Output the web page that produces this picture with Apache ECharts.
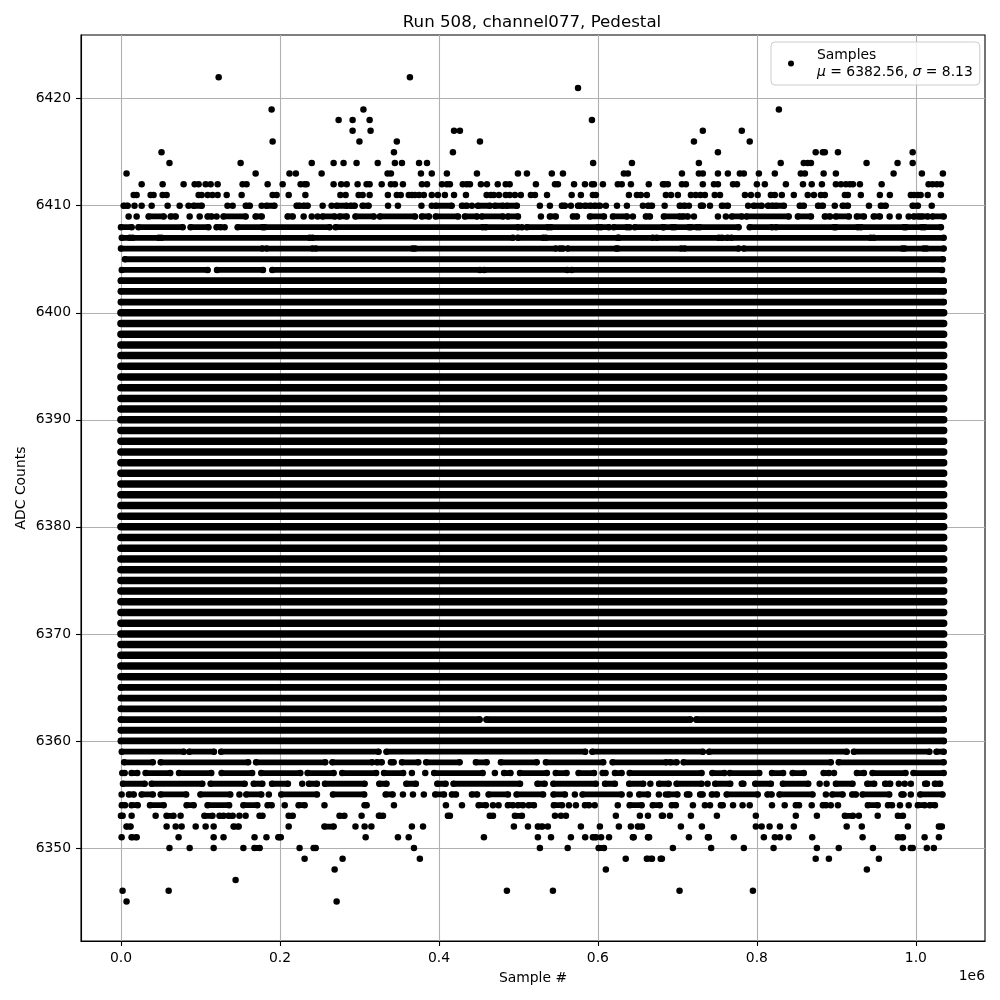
<!DOCTYPE html>
<html>
<head>
<meta charset="utf-8">
<style>html,body{margin:0;padding:0;background:#fff}#c{width:1000px;height:1000px}</style>
<script src="https://cdn.jsdelivr.net/npm/echarts@6/dist/echarts.min.js"></script>
</head>
<body>
<div id="c"></div>
<script>
// x values are in thousands of samples; a number is one sample, [a,b] is an unbroken run of samples.
const xTicks = [0, 200, 400, 600, 800, 1000];
const yTicks = [6350, 6360, 6370, 6380, 6390, 6400, 6410, 6420];
const fullRun = [[0, 1035]];
const solidLevels = [6361,6363,6364,6365,6366,6367,6368,6369,6370,6371,6372,6373,6374,6375,6376,6377,6378,6379,6380,6381,6382,6383,6384,6385,6386,6387,6388,6389,6390,6391,6392,6393,6394,6395,6396,6397,6398,6399,6400,6401,6402,6403];
const saturatedLevels = [6366,6367,6368,6369,6370,6371,6372,6373,6374,6375,6376,6377,6378,6379,6380,6381,6382,6383,6384,6385,6386,6387,6388,6389,6390,6391,6392,6393,6394,6395,6396,6397,6398,6399,6400];
const packedLevels = [6360,6361,6362,6363,6364,6365,6401,6402,6403];
const level6422 = [122.9, 363.5];
const level6421 = [575];
const level6419 = [189.5, 305, 827.7];
const level6418 = [273.8, 291.4, 312.8, 592.5];
const level6417 = [291.4, 314, 419, 426.4, 732, 781];
const level6416 = [190.8, 300, 347, 451.6, 720.8, 791];
const level6415 = [51, 343.4, 417.6, 751, 874, 883, 885.5, 902, 996];
const level6414 = [61, 150.5, 240, 267.5, 280, 296.4, 323, 344.6, 353.5, 375, 385, 594, 642.8, 727, 830, 859, 864, 868, 938, 977, 996];
const level6413 = [7, 169.4, 212, 220, 252.4, 335.4, 339.6, 377.4, 391, 410, 447.8, 499.4, 510.7, 542, 556, 632.7, 637.7, 705.7, 727, 732, 751, 763.5, 778.6, 783.6, 802.5, 822.6, 855.3, 860.4, 884, 899.4, 972, 1007.6, 1034];
const level6412 = [26, 52.4, 78.8, 92.7, 97.7, 106.5, 112.8, 121.6, 153, 158, 184.5, 203.4, 226, 231, 233.5, 267.5, 277, 284, 297.7, 309, 312.8, 328, 339.6, 344.6, 354.7, 378.6, 385, 403.8, 410, 413.8, 430, 435, 439, 452.8, 460.4, 474, 484, 489, 522, 546, 549.7, 570, 583.7, 592.5, 595, 606.3, 625, 630, 641.5, 664, 681.8, 684, 688, 705.7, 710.7, 732, 746, 751, 770, 775, 800, 810, 836.5, 858, 869, 881.8, 899.4, 905.7, 912, 917, 920.8, 929.6, 957, 1016, 1021, 1026.4, 1031.5];
const level6411 = [16, 19.7, 37.3, 41, 52.4, 57.4, 97.7, 101.5, 109, 115, 121.6, 133, 151.8, 190.8, 195.8, 211, 232, 276, 282.6, 299, 304, 312.8, 335.8, 347, 352, 362, 366, 369.8, 375, 381, 391, 398.7, 407.5, 419, 434, 460, 465.4, 469, 475.5, 484, 489, 495.6, 503, 515.7, 520.8, 536, 567, 578.6, 593.7, 597.5, 639, 649, 654, 661.6, 685.5, 692, 700.6, 717, 723, 729, 734.6, 747, 753.6, 785, 792.5, 801, 817.6, 822.6, 831.4, 846.5, 864, 871.7, 880.5, 885.5, 910.7, 914.5, 930.8, 954.7, 967.3, 993.7, 997.5, 1002.5, 1006, 1015, 1031.5];
const level6410 = [[3.4,8.4], 17, 26, 38.6, 58.7, 73.8, 85, [91.4,101.5], 134, 140.5, [157,162], 177, [183,193], [221,224.7], [229.8,234.8], 253.7, 265, [271.3,283.9], [289,294], [304,311.5], 336, 348.4, 378, 391, [396,416], [429,435], 441.5, [449,464], [470.4,480.5], [485.5,498], 527, 539.6, [554.7,558.5], 566, [575,578], [583.7,591], [596,602.5], 610, 624, 636.5, 656.6, [663,668], 684, [703,709.4], 714.5, [729.6,732], 741, [756,763.5], 789, [796,806], [814,820], [824,834], [854,859], [877,883], 898, [908,914.5], 941, [956,962], [996,1002.5], 1020];
const level6409 = [9.6, 19.7, [34.8,53.7], [62.5,68.8], 86.4, 99, [109,114], 120.3, [129,156.8], [169.4,177], [209.7,216], 229.8, 240, 247.4, [253.7,268.8], [275,283.9], [295,318], [325.8,369.8], [378.6,387.4], [396,424], [432.7,447.8], [454,480.5], [486.8,499.4], 528.3, [539.6,547], [568.6,573.6], [590,607.6], [618.9,636.5], 644, [660.4,665.4], [683,703], [707,713], 720.8, 751, 761, [768.6,781], [787,840], [851.6,868], [885.5,892], [899.4,915.7], [925.8,934.6], [947,954.7], 967, 978.6, 991, [997.5,1003.8], [1007.6,1015], [1021,1035]];
const level6408 = [[0,13.4], [22,77.6], [87.6,110], [120.3,125.4], 130.4, [146.8,178], [180.7,262.5], [270,455], [459,499.4], 504.4, [510.7,537], [541,600], [603.8,613.8], [620,636.5], 640, [646.5,681.8], [683,693.5], [696.8,714.5], [717,724.5], [728,777], [791,819], [824,897], [899.4,927], [931,985], [987.6,1007.6], [1011,1031.5]];
const level6407 = [[1,11], [14.7,47.4], [51,237.3], [241,493], [499.4,531], [534.6,625], [626.4,669], [674,752], [756,763], [768,943], [947,1035]];
const level6406 = [[0,178], [183,241], [245,367], [370,547], [552,556], [562,623], [625,705], [709,777], [783.6,983], [986,1010], [1013.4,1035]];
const level6405 = [[5,1034]];
const level6404 = [[1,109], [120.8,178.6], [190.4,451.6], [457,561.4], [567,1033]];
const level6362 = [[0,451], [460,716], [724,1035]];
const level6360 = [[0,1035]];
const level6359 = [[1,79], [86,117], [126,324], [334,584], [593,732], [740,913], [922,1017], [1026,1035]];
const level6358 = [[4,40], [50,160], [170,257], [266,316], [322,328], [339.6,343], [353.5,374], [384,426], [446.5,460], [478,523], [534.6,606.7], [618.5,686], [691,699], [707.8,893], [903,1035]];
const level6357 = [[1.7,4.6], [13.4,20.5], [31,62], [73,113.6], [126.6,165], [176.5,225.6], [234.8,267.5], [278.4,321], [331,355], 366, 382.8, [394,455], 470.4, [482,490], [502,535.8], [547,560.6], [575.7,595], [606,609.6], [621.4,629.8], [640,730.4], [744,759], [766,803], [819,833], [845,859], [884,890.6], 897, [925.8,934.6], [945.5,987], [997,1035]];
const level6356 = [[2.5,29.8], [38.6,102.3], [112.8,155.6], [167,177.8], [190,210], 228, [236.5,246.5], [256.6,306.5], [325,334], [359,371], [398,408.4], [418.4,502], [524,533], [544,597.5], [609,621.4], [639.4,657], 666, [677,689], [699,730.4], 738, [747.6,766.5], [781,783], [798,817.6], [832.7,864.6], 879, 887.7, [899.4,920.3], [939,947.6], [961.4,967.7], 978.6, 986, 993.7, [1011.7,1014], [1024,1030.6]];
const level6355 = [0.8, [10,16], [26,40], [50,82], [100,137.5], 149, [157.7,176.5], 186, [201.7,246.5], [266.7,306], [333,341.7], 354.7, 367.3, 381, [395.4,406.3], [416.4,421.4], [441.5,448], [462.5,486.8], [497.7,531], [544.2,558.5], 571, [580.7,629.8], 640, [652,663], 676.7, 685.5, [689,700], [712,715], [728.7,731.7], [743.4,749.7], [762,801], [813.4,818.5], [828.5,870], 886.8, [895,907.8], [920,924.5], [933,966.5], [982,984.5], 993.7, [1005.5,1033.5]];
const level6354 = [[1,5], [13.4,21], [36.5,53.7], [82.6,91.4], [109,136], [154,171.5], [184.5,189.5], 206, [223.5,231], 256, [306.5,309], 343.4, 408.8, 429, [450,459], 468, 475, [486.8,493], [499.4,505.7], [513,519.5], [544.6,554.7], 563.5, 572.3, [583.7,588.7], 596, 625, [640,655], [669,678], [693,698], 719.5, 734.6, 741, [754.7,757], 770, 782, 791, 819, 835, [849,853], 869, [883,887], 893, 902, [939.6,952], [965,970], 980, 991, [1002.5,1011], [1017.6,1024]];
const level6353 = [[0,2], 13.4, 43.6, [57.4,66], 75, [105,115], [124,129], [135.4,140.5], 149, 156.8, [174.4,178], [211,216], [275,281], 302.7, 324.5, [325.8,329.6], [411.3,413.8], [464,468], [495.6,504.4], 546, 553.5, 559.8, 622.6, 652.8, 663, 680.5, 681.8, 690.6, 717, 749.7, 798.7, 849, 875.5, [910.7,920.8], 928.3, 952, [977.4,983.7]];
const level6352 = [[7,12], 57.4, 68.8, 76.3, 94, 106.5, 116.6, [141.7,148], 211, [256,267.5], 295, 306.5, 315, 366, 380, 494.3, 512, [524.5,530], 537, 578.6, 602.5, 626.4, 641.5, [650.3,655.4], 704.4, 730.8, 798.7, 806, 816, 829, 846.5, 913, 932, 990, [1029,1032.7]];
const level6351 = [0.8, [13.4,19.7], 72.5, 116.6, 129, 168, 183, [198,201], 307.8, 348.4, 362, 456.6, 524.5, 541, 566, 584, [593.7,597.5], 604, 614, [644,645], [663,664.4], 714.5, [738.4,739.6], 771, 808.8, 822.6, 829, 840, 869.6, 933, [977.4,983.7], 1011, 1029];
const level6350 = [61, 86.4, 116.6, 154, [168,174.4], 224.7, [242.4,244.9], 368.6, 527, 562, [601,607.6], 694.3, 742.5, 783.6, 821, 875.5, 903, 946, 983.7, [993.7,996], 1013.8, 1022.6];
const level6349 = [231, 278.8, 376, 635, [661.6,668], 679, 680.5, 874, 890.6, 953.5];
const level6348 = [268.8, 610, 938.4];
const level6347 = [144.2];
const level6346 = [2, 60, 485.5, 543.4, 702.7, 795];
const level6345 = [7, 271.3];

const readRows = [
  [6422, level6422], [6421, level6421], [6419, level6419], [6418, level6418], [6417, level6417],
  [6416, level6416], [6415, level6415], [6414, level6414], [6413, level6413], [6412, level6412],
  [6411, level6411], [6410, level6410], [6409, level6409], [6408, level6408], [6407, level6407],
  [6406, level6406], [6405, level6405], [6404, level6404], [6362, level6362], [6360, level6360],
  [6359, level6359], [6358, level6358], [6357, level6357], [6356, level6356], [6355, level6355],
  [6354, level6354], [6353, level6353], [6352, level6352], [6351, level6351], [6350, level6350],
  [6349, level6349], [6348, level6348], [6347, level6347], [6346, level6346], [6345, level6345]
];
const allRows = readRows.concat(solidLevels.map(v => [v, fullRun]));

const dots = [];
const saturatedRuns = [];
const packedRuns = [];
const looseRuns = [];
allRows.forEach(([level, items]) => {
  const target = saturatedLevels.includes(level) ? saturatedRuns : packedLevels.includes(level) ? packedRuns : looseRuns;
  items.forEach(item => {
    if (Array.isArray(item)) {
      dots.push([item[0] * 1000, level], [item[1] * 1000, level]);
      target.push([item[0] * 1000, level], [item[1] * 1000, level], ['-', '-']);
    } else {
      dots.push([item * 1000, level]);
    }
  });
});

const FONT = '"DejaVu Sans"';
const TEXT = 13.9;
function runSeries(name, data, width) {
  return {
    name, type: 'line', data, showSymbol: false, silent: true, connectNulls: false,
    lineStyle: { color: '#000', width, cap: 'round', opacity: 1 }, z: 3
  };
}
const chart = echarts.init(document.getElementById('c'), null, { renderer: 'canvas' });
chart.setOption({
  animation: false,
  backgroundColor: '#fff',
  textStyle: { fontFamily: FONT },
  title: {
    text: 'Run 508, channel077, Pedestal',
    left: 527, top: 9, textAlign: 'center',
    textStyle: { fontFamily: FONT, fontSize: 16.67, fontWeight: 'normal', color: '#000' }
  },
  grid: { left: 81, right: 15, top: 35, bottom: 59, show: true, borderColor: '#000', borderWidth: 1.1, backgroundColor: '#fff' },
  xAxis: {
    type: 'value', min: -50300, max: 1087000,
    name: 'Sample #', nameLocation: 'middle', nameGap: 30,
    nameTextStyle: { fontFamily: FONT, fontSize: TEXT, color: '#000' },
    axisLine: { show: true, onZero: false, lineStyle: { color: '#000', width: 1.1 } },
    axisTick: { show: true, length: 5, customValues: xTicks.map(v => v * 1000), lineStyle: { color: '#000', width: 1.1 } },
    axisLabel: { show: true, margin: 10, color: '#000', fontFamily: FONT, fontSize: TEXT, customValues: xTicks.map(v => v * 1000), formatter: v => (v / 1e6).toFixed(1) },
    splitLine: { show: true, lineStyle: { color: '#b0b0b0', width: 1.1 } }
  },
  yAxis: {
    type: 'value', min: 6341.31, max: 6425.95,
    name: 'ADC Counts', nameLocation: 'middle', nameGap: 53, nameMoveOverlap: false,
    nameTextStyle: { fontFamily: FONT, fontSize: TEXT, color: '#000' },
    axisLine: { show: true, onZero: false, lineStyle: { color: '#000', width: 1.1 } },
    axisTick: { show: true, length: 5, customValues: yTicks, lineStyle: { color: '#000', width: 1.1 } },
    axisLabel: { show: true, margin: 10, color: '#000', fontFamily: FONT, fontSize: TEXT, customValues: yTicks, formatter: v => String(v) },
    splitLine: { show: true, lineStyle: { color: '#b0b0b0', width: 1.1 } }
  },
  legend: {
    data: ['Samples'], orient: 'vertical', left: 771, top: 42,
    padding: [6, 7, 6, 17], icon: 'circle', itemWidth: 6, itemHeight: 6, selectedMode: false,
    backgroundColor: 'rgba(255,255,255,0.8)', borderColor: '#ccc', borderWidth: 1, borderRadius: 4,
    formatter: () => '{t|Samples}\n{i|μ}{t| = 6382.56, }{i|σ}{t| = 8.13}',
    textStyle: {
      rich: {
        t: { fontFamily: FONT, fontSize: TEXT, color: '#000', lineHeight: 17 },
        i: { fontFamily: FONT, fontSize: TEXT, fontStyle: 'italic', color: '#000', lineHeight: 17 }
      },
      padding: [0, 0, 0, 18]
    }
  },
  graphic: [{
    type: 'text', right: 15, top: 969, z: 10,
    style: { text: '1e6', fontFamily: FONT, fontSize: TEXT, fill: '#000', textAlign: 'right' }
  }],
  series: [
    runSeries('saturated', saturatedRuns, 7.5),
    runSeries('packed', packedRuns, 6.8),
    runSeries('loose', looseRuns, 5.8),
    {
      name: 'Samples', type: 'scatter', data: dots, symbol: 'circle', symbolSize: 6.5, silent: true,
      itemStyle: { color: '#000', opacity: 1 }, z: 4
    }
  ]
});
</script>
</body>
</html>
